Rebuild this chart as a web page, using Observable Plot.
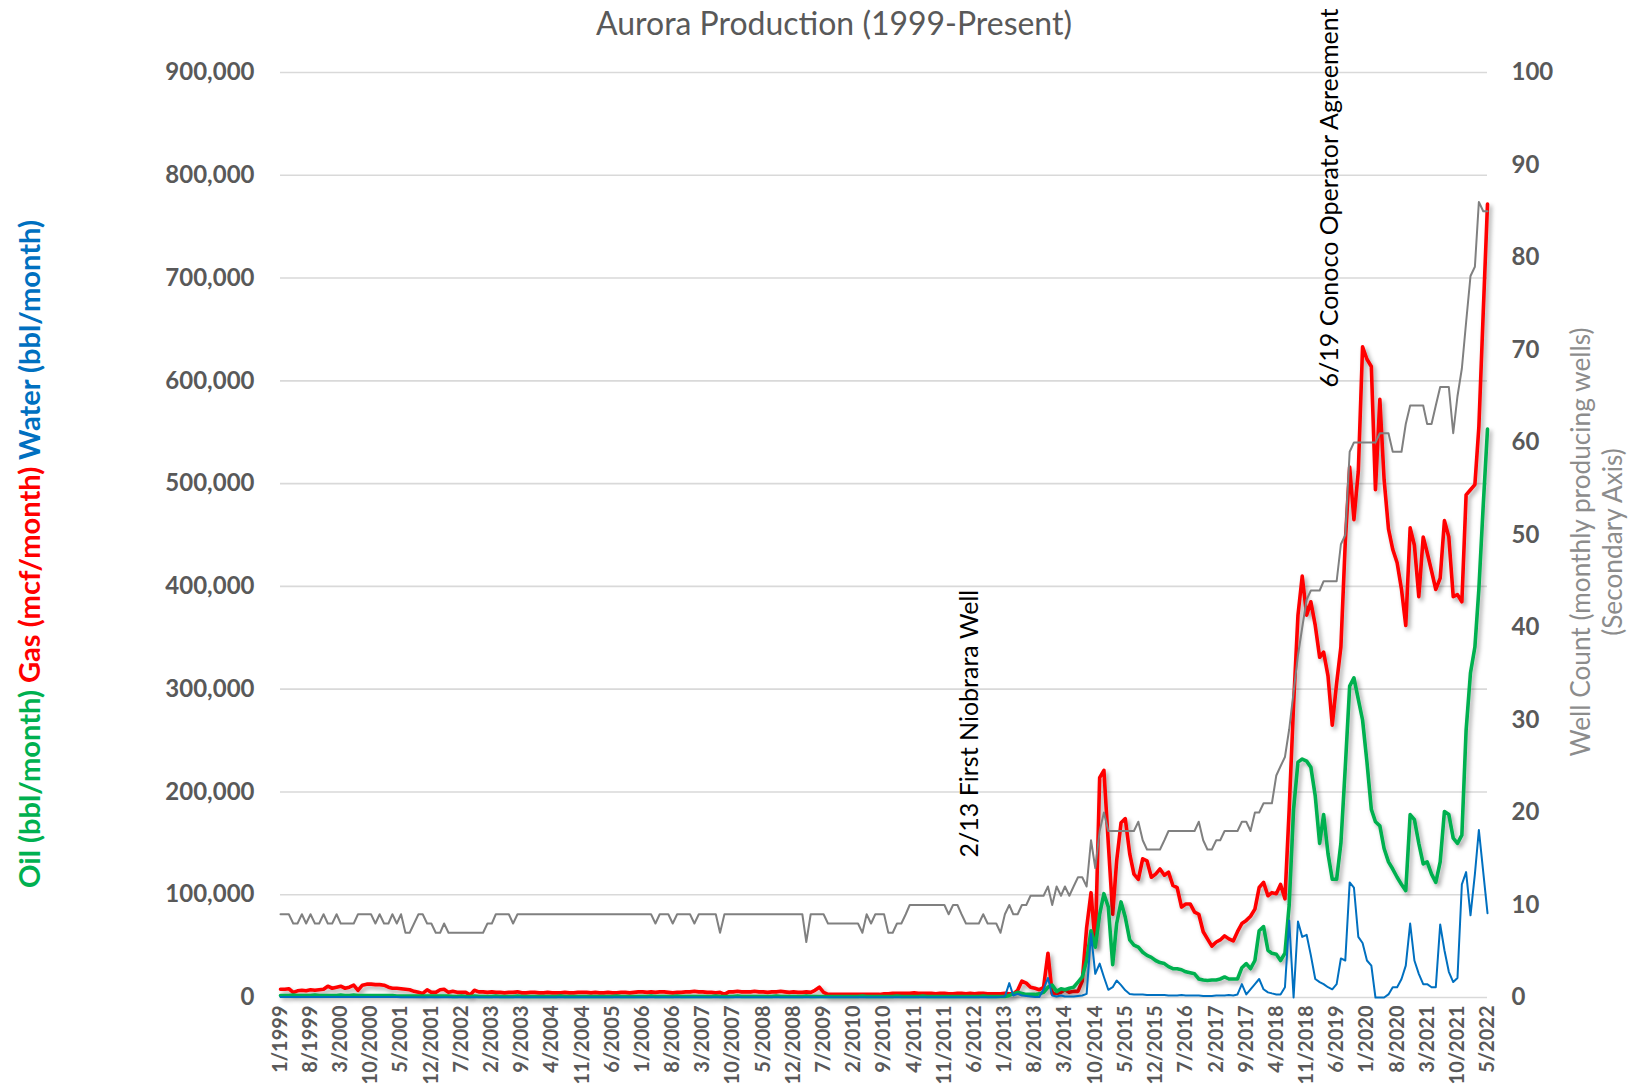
<!DOCTYPE html>
<html><head><meta charset="utf-8">
<script src="https://cdn.jsdelivr.net/npm/d3@7"></script>
<script src="https://cdn.jsdelivr.net/npm/@observablehq/plot@0.6"></script>
<style>
html,body{margin:0;padding:0;background:#fff;}
#chart{width:1628px;height:1089px;overflow:hidden;}
</style></head><body><div id="chart"></div>
<script>
// ---- categories: monthly, 1/1999 .. 5/2022 ----
const firstMonth = "1/1999";
const lastMonth = "5/2022";

// ---- x-axis tick labels (every 7 months) ----
const xTickLabels = ["1/1999","8/1999","3/2000","10/2000","5/2001","12/2001","7/2002","2/2003","9/2003","4/2004","11/2004","6/2005","1/2006","8/2006","3/2007","10/2007","5/2008","12/2008","7/2009","2/2010","9/2010","4/2011","11/2011","6/2012","1/2013","8/2013","3/2014","10/2014","5/2015","12/2015","7/2016","2/2017","9/2017","4/2018","11/2018","6/2019","1/2020","8/2020","3/2021","10/2021","5/2022"];

// ---- axis ticks ----
const primaryTicks = [0,100000,200000,300000,400000,500000,600000,700000,800000,900000];
const wellTicks = [0,10,20,30,40,50,60,70,80,90,100];
const secondaryMax = 100;

// ---- series (thousands per month), one row per year ----
const gasK = [
8,8,8.5,5,6.5,7,6.5,7.5,7,7.5,8,11,
9,10,11,9,10,12,7,12,13,13,12.5,12.5,
12,10,9,9,8.5,8,7.5,6,5,4,7.5,5,
5,7.5,8,5,6,5,5,5,2.5,7,5.5,5.5,
5,5.5,5,5,4.5,5,5,5.5,4.5,4.5,5,5,
4.5,4.5,5,4.5,4.5,4.5,5,4.5,4.5,5,5,5,
4.5,5,4.5,4.5,5,4.5,4.5,5,5,4.5,5,5.5,
5.5,5,5.5,5,5.5,5.5,5,4.5,5,5,5.5,5.5,
6,5.5,5.5,5,5,4.5,5,3,5.5,5.5,6,5.5,
5.5,5.5,6,5.5,5.5,5,5.5,5.5,6,5.5,5,5.5,
5,5,5.5,5,7,10,5,3,3,3,3,3,
3,3,3,3,3,3,3,3,3.5,3.5,4,4,
4,4,4,4.5,4,4,4,4,3.5,4,4,3.5,
3.5,4,4,3.5,4,3.5,4,4,3.5,3.5,3.5,3.5,
4,3.5,3.5,7,16,14,10,9,7.5,10,43,3.5,
4,5,7.5,5,6,6,16,68,102,50,214,221,
150,81,133,170,174,140,120,115,135,133,117,120,
125,119,122,109,107,88,91,91,83,81,64,57,
50,54,56,60,57,55,64,72,75,79,86,107,
112,99,102,101,110,96,183,285,372,410,372,385,
362,331,336,313,265,306,341,443,516,465,512,633,
621,614,494,582,504,456,436,423,397,362,457,440,
390,448,433,415,397,408,464,448,390,392,385,489,
494,499,555,667,772
];

const oilK = [
2,2,2,2.5,2,2,2,2,2.5,2,2,2,
2,2,2.5,2,2,2.5,2,2,2,2,2,2,
2,2,2,1.5,1.5,1.5,1.5,1.5,1.5,1.5,1.5,1.5,
1.5,1.5,1.5,1.5,1,1,1.5,1,1,1.5,1,1,
1,1,1.5,1,1,1,1,1.5,1,1,1,1,
1,1,1,1,1,1.5,1,1,1,1,1,1,
1,1,1,1,1,1,1.5,1,1,1,1,1,
1,1,1.5,1,1,1,1,1,1.5,1,1,1,
1,1,1,1,1,1.5,1,1,1,1,1.5,1,
1,1,1,1,1,1,1,1.5,1,1,1,1,
1,1,1.5,1,1,1,1,1,1,1,1,1,
1,1,1,1.5,1,1,1,1,1,1,1,1.5,
1,1,1,1,1,1.5,1,1,1,1,1,1,
1,1,1,1,1,1,1,1.5,1,1,1,1,
1,2,3.5,5,4,3,3,3,3.5,5,10,12,
6,8.5,7.5,9,10,15,20,36,65,49,81,101,
88,32,72,93,78,56,51,49,44,41,39,36,
34,33,30,28,28,27,25,24,23,18,17,16.5,
17,17,18,20,18,18,18,29,33,28,36,65,
69,46,43,42,36,43,90,183,229,232,230,224,
196,150,178,140,115,115,150,224,303,311,290,270,
229,183,171,167,145,132,125,117,110,104,178,173,
150,130,132,120,112,132,181,178,155,150,158,260,
316,341,397,479,553
];

const waterK = [
0.5,0.5,0.5,0.5,0.5,0.5,0.5,0.5,0.5,0.5,0.5,0.5,
0.5,0.5,0.5,0.5,0.5,0.5,0.5,0.5,0.5,0.5,0.5,0.5,
0.5,0.5,0.5,0.5,0.3,0.3,0.3,0.3,0.3,0.3,0.3,0.3,
0.3,0.3,0.3,0.3,0.3,0.3,0.3,0.3,0.3,0.3,0.3,0.3,
0.3,0.3,0.3,0.3,0.3,0.3,0.3,0.3,0.3,0.3,0.3,0.3,
0.3,0.3,0.3,0.3,0.3,0.3,0.3,0.3,0.3,0.3,0.3,0.3,
0.3,0.3,0.3,0.3,0.3,0.3,0.3,0.3,0.3,0.3,0.3,0.3,
0.3,0.3,0.3,0.3,0.3,0.3,0.3,0.3,0.3,0.3,0.3,0.3,
0.3,0.3,0.3,0.3,0.3,0.3,0.3,0.3,0.3,0.3,0.3,0.3,
0.3,0.3,0.3,0.3,0.3,0.3,0.3,0.3,0.3,0.3,0.3,0.3,
0.3,0.3,0.3,0.3,0.3,0.3,0.3,0.3,0.3,0.3,0.3,0.3,
0.3,0.3,0.3,0.3,0.3,0.3,0.3,0.3,0.3,0.3,0.3,0.3,
0.3,0.3,0.3,0.3,0.3,0.3,0.3,0.3,0.3,0.3,0.3,0.3,
0.3,0.3,0.3,0.3,0.3,0.3,0.3,0.3,0.3,0.3,0.3,0.5,
1,14,2,3.5,2,1.5,1,0.5,0.5,8,19,2,
1,2,1,1,1,1.5,2,3.5,62,23,33,20,
7.5,10,16.5,12,7,3.5,3,3,3,2.5,2.5,2.5,
2.5,2.5,2,2,2,2.5,2,2,2,2,1.5,1.5,
1.5,2,2,2,2.5,2,3,13,3,8,13,18,
8,5,4,3,3,10,75,0,74,59,61,41,
18,15,13,10,8,13,38,36,112,107,59,53,
36,31,0,0,0,3,10,10,18,31,72,36,
23,13,13,10,10,71,46,25,15,19,110,122,
80,120,163,122,82
];

const wellCount = [
9,9,9,8,8,9,8,9,8,8,9,8,
8,9,8,8,8,8,9,9,9,9,8,9,
8,8,9,8,9,7,7,8,9,9,8,8,
7,7,8,7,7,7,7,7,7,7,7,7,
8,8,9,9,9,9,8,9,9,9,9,9,
9,9,9,9,9,9,9,9,9,9,9,9,
9,9,9,9,9,9,9,9,9,9,9,9,
9,9,9,8,9,9,9,8,9,9,9,9,
8,9,9,9,9,9,7,9,9,9,9,9,
9,9,9,9,9,9,9,9,9,9,9,9,
9,9,6,9,9,9,9,8,8,8,8,8,
8,8,8,7,9,8,9,9,9,7,7,8,
8,9,10,10,10,10,10,10,10,10,10,9,
10,10,9,8,8,8,8,9,8,8,8,7,
9,10,9,9,10,10,11,11,11,11,12,10,
12,11,12,11,12,13,13,12,17,14,18,20,
18,18,18,18,18,18,18,19,17,16,16,16,
16,17,18,18,18,18,18,18,18,19,17,16,
16,17,17,18,18,18,18,19,19,18,20,20,
21,21,21,24,25,26,29,33,37,40,43,44,
44,44,45,45,45,45,49,50,59,60,60,60,
60,60,60,61,61,61,59,59,59,62,64,64,
64,64,62,62,64,66,66,66,61,65,68,73,
78,79,86,85,85
];

// ---- annotations ----
const annotationText = ["2/13 First Niobrara Well", "6/19 Conoco Operator Agreement"];
const annotationMonth = ["2/2013", "6/2019"];

// ---- helpers ----
const parseMY = s => { const [m, y] = s.split("/").map(Number); return new Date(Date.UTC(y, m - 1, 1)); };
const months = d3.utcMonth.range(parseMY(firstMonth), d3.utcMonth.offset(parseMY(lastMonth), 1));
if (months.length !== gasK.length || oilK.length !== gasK.length || waterK.length !== gasK.length || wellCount.length !== gasK.length)
  console.error("length mismatch", months.length, gasK.length, oilK.length, waterK.length, wellCount.length);

const rows = months.map((date, i) => ({date, gas: gasK[i] * 1000, oil: oilK[i] * 1000, water: waterK[i] * 1000, wells: wellCount[i]}));
const yMax = primaryTicks[primaryTicks.length - 1];
const wellToY = yMax / secondaryMax;

const FONT = "Lato, 'Open Sans', sans-serif";
const TICK = "#595959";

const plot = Plot.plot({
  width: 1628, height: 1089,
  marginTop: 72, marginBottom: 92, marginLeft: 280, marginRight: 141,
  x: {type: "utc", domain: [months[0], months[months.length - 1]], axis: null},
  y: {domain: [0, yMax], axis: null},
  style: {fontFamily: FONT, background: "#fff", overflow: "visible"},
  marks: [
    Plot.ruleY(primaryTicks, {stroke: "#d9d9d9", strokeWidth: 1.6}),
    Plot.text(primaryTicks, {y: d => d, frameAnchor: "left", dx: -26, textAnchor: "end",
      text: d => d3.format(",")(d), fontSize: 24, fontWeight: "bold", fill: TICK}),
    Plot.text(wellTicks, {y: d => d * wellToY, frameAnchor: "right", dx: 24, textAnchor: "start",
      text: d => String(d), fontSize: 24, fontWeight: "bold", fill: TICK}),
    Plot.text(xTickLabels, {x: d => parseMY(d), frameAnchor: "bottom", rotate: -90, textAnchor: "end",
      lineAnchor: "middle", dy: 8, text: d => d, fontSize: 20, fontWeight: "bold", fill: TICK}),
    Plot.line(rows, {x: "date", y: "gas", stroke: "#ff0000", strokeWidth: 3.6, strokeLinejoin: "round"}),
    Plot.line(rows, {x: "date", y: "oil", stroke: "#00b050", strokeWidth: 3.6, strokeLinejoin: "round"}),
    Plot.line(rows, {x: "date", y: "water", stroke: "#0070c0", strokeWidth: 2, strokeLinejoin: "round"}),
    Plot.line(rows, {x: "date", y: d => d.wells * wellToY, stroke: "#808080", strokeWidth: 2, strokeLinejoin: "round"}),
    Plot.text([0], {x: () => parseMY(annotationMonth[0]), frameAnchor: "bottom", rotate: -90, textAnchor: "start",
      lineAnchor: "middle", dx: -39, dy: -140, text: () => annotationText[0], fontSize: 25, fill: "#000"}),
    Plot.text([0], {x: () => parseMY(annotationMonth[1]), frameAnchor: "top", rotate: -90, textAnchor: "end",
      lineAnchor: "middle", dx: -7, dy: -64, text: () => annotationText[1], fontSize: 25, fill: "#000"})
  ]
});
document.getElementById("chart").append(plot);

const svg = d3.select(plot);
const defs = svg.insert("defs", ":first-child");
defs.append("filter").attr("id", "lineShadow")
  .attr("x", "-2%").attr("y", "-5%").attr("width", "104%").attr("height", "112%")
  .append("feDropShadow").attr("dx", 2.5).attr("dy", 3).attr("stdDeviation", 2.2)
  .attr("flood-color", "#000").attr("flood-opacity", 0.35);
const lineGroups = svg.selectAll('g[aria-label="line"]').nodes();
d3.select(lineGroups[0]).attr("filter", "url(#lineShadow)");
d3.select(lineGroups[1]).attr("filter", "url(#lineShadow)");

function fitWidth(sel, target) {
  const w = sel.node().getComputedTextLength();
  const fs = parseFloat(sel.attr("font-size"));
  if (w > 0) sel.attr("font-size", (fs * target / w).toFixed(2));
}

// title
const title = svg.append("text").attr("x", 834).attr("y", 22)
  .attr("text-anchor", "middle").attr("dominant-baseline", "central")
  .attr("font-family", FONT).attr("font-size", 28).attr("fill", TICK)
  .text("Aurora Production (1999-Present)");
fitWidth(title, 476);

// left (primary) axis title, three coloured parts
const lt = svg.append("text").attr("transform", "translate(28,554) rotate(-90)")
  .attr("text-anchor", "middle").attr("dominant-baseline", "central")
  .attr("font-family", FONT).attr("font-size", 25).attr("font-weight", "bold");
lt.append("tspan").attr("fill", "#00b050").text("Oil (bbl/month) ");
lt.append("tspan").attr("fill", "#ff0000").text("Gas (mcf/month) ");
lt.append("tspan").attr("fill", "#0070c0").text("Water (bbl/month)");
fitWidth(lt, 668);

// right (secondary) axis title
const rt1 = svg.append("text").attr("transform", "translate(1580,542) rotate(-90)")
  .attr("text-anchor", "middle").attr("dominant-baseline", "central")
  .attr("font-family", FONT).attr("font-size", 24).attr("fill", "#8c8c8c")
  .text("Well Count (monthly producing wells)");
fitWidth(rt1, 429);
svg.append("text").attr("transform", "translate(1612,542) rotate(-90)")
  .attr("text-anchor", "middle").attr("dominant-baseline", "central")
  .attr("font-family", FONT).attr("font-size", rt1.attr("font-size")).attr("fill", "#8c8c8c")
  .text("(Secondary Axis)");
</script></body></html>
